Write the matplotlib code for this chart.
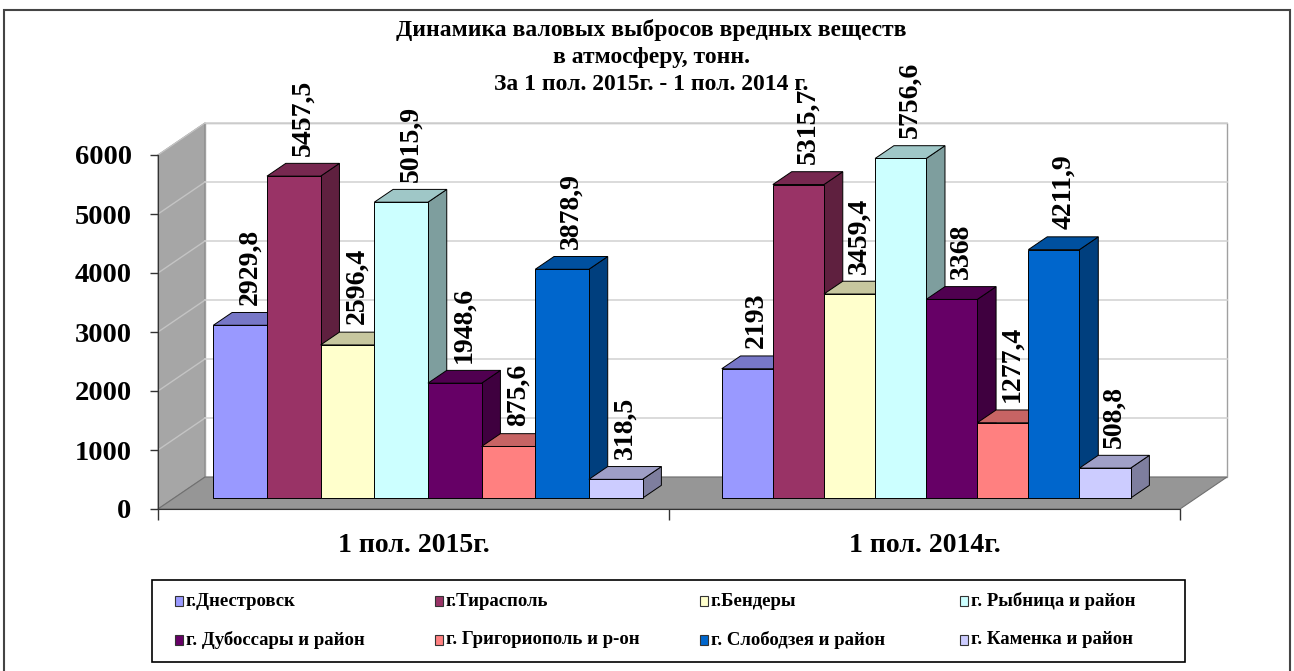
import matplotlib
matplotlib.use("Agg")
import matplotlib.pyplot as plt
from matplotlib.patches import Polygon, Rectangle
from matplotlib.colors import to_rgb

plt.rcParams['font.family'] = ['Liberation Serif', 'DejaVu Serif']
plt.rcParams['font.weight'] = 'bold'

# data
periods = ['1 пол. 2015г.', '1 пол. 2014г.']
towns = ['г.Днестровск', 'г.Тирасполь', 'г.Бендеры', 'г. Рыбница и район',
         'г. Дубоссары и район', 'г. Григориополь и р-он', 'г. Слободзея и район',
         'г. Каменка и район']
vals_2015 = [2929.8, 5457.5, 2596.4, 5015.9, 1948.6, 875.6, 3878.9, 318.5]
vals_2014 = [2193, 5315.7, 3459.4, 5756.6, 3368, 1277.4, 4211.9, 508.8]
colors = ['#9999FF', '#993366', '#FFFFCC', '#CCFFFF',
          '#660066', '#FF8080', '#0066CC', '#CCCCFF']
title_lines = ['Динамика валовых выбросов вредных веществ',
               'в атмосферу, тонн.',
               'За 1 пол. 2015г. - 1 пол. 2014 г.']

W, H = 1294, 671
fig = plt.figure(figsize=(W / 100, H / 100), dpi=100)
ax = fig.add_axes([158 / W, (H - 509) / H, (1180 - 158) / W, (509 - 155) / H])
ax.set_xlim(0, 2)
ax.set_ylim(0, 6000)

# 3d depth offset (category units, value units)
DX, DY = 0.092, 542
f0, d = 0.34, 0.40          # bar front position in depth, bar depth
group_c = [0.497, 1.472]    # group centres (slight perspective)
group_w = [0.84, 0.80]


def shade(c, k):
    r, g, b = to_rgb(c)
    return (r * k, g * k, b * k)


# walls and floor
ax.add_patch(Polygon([(0, 0), (0, 6000), (DX, 6000 + DY), (DX, DY)],
                     closed=True, fc='#a6a6a6', ec='#808080', lw=0.8,
                     clip_on=False, zorder=0))
ax.add_patch(Rectangle((DX, DY), 2, 6000, fc='white', ec='#a0a0a0', lw=1,
                       clip_on=False, zorder=0))
ax.add_patch(Polygon([(0, 0), (2, 0), (2 + DX, DY), (DX, DY)],
                     closed=True, fc='#969696', ec='#707070', lw=0.8,
                     clip_on=False, zorder=0.5))
for v in range(1000, 7000, 1000):
    ax.plot([DX, 2 + DX], [v + DY, v + DY], color='#d4d4d4', lw=1.2,
            clip_on=False, zorder=0.2)
    ax.plot([0, DX], [v, v + DY], color='#c4c4c4', lw=1.0,
            clip_on=False, zorder=0.2)

# bars
z = 3
for gi, vals in enumerate([vals_2015, vals_2014]):
    w = group_w[gi] / len(vals)
    start = group_c[gi] - group_w[gi] / 2
    for j, v in enumerate(vals):
        x0 = start + j * w + f0 * DX
        y0 = f0 * DY
        c = colors[j]
        ax.add_patch(Polygon([(x0 + w, y0), (x0 + w + d * DX, y0 + d * DY),
                              (x0 + w + d * DX, y0 + v + d * DY), (x0 + w, y0 + v)],
                             closed=True, fc=shade(c, 0.62), ec='black', lw=0.7,
                             clip_on=False, zorder=z))
        ax.add_patch(Polygon([(x0, y0 + v), (x0 + w, y0 + v),
                              (x0 + w + d * DX, y0 + v + d * DY),
                              (x0 + d * DX, y0 + v + d * DY)],
                             closed=True, fc=shade(c, 0.78), ec='black', lw=0.7,
                             clip_on=False, zorder=z))
        ax.bar(x0, v, width=w, bottom=y0, align='edge', color=c,
               edgecolor='black', linewidth=0.7, zorder=z + 0.1, clip_on=False)
        z += 1
        lab = f'{v:g}'.replace('.', ',')
        ax.text(x0 + w / 2 + d * DX / 2, y0 + v + d * DY + 130, lab, rotation=90,
                ha='center', va='bottom', fontsize=20, fontweight='bold',
                clip_on=False, zorder=50)

# axes
for s in ['top', 'right']:
    ax.spines[s].set_visible(False)
ax.spines['left'].set_color('#333333')
ax.spines['bottom'].set_color('#333333')
ax.spines['left'].set_zorder(40)
ax.spines['bottom'].set_zorder(40)
ax.set_yticks(range(0, 7000, 1000))
ax.set_yticklabels([str(t) for t in range(0, 7000, 1000)], fontsize=20.5,
                   fontweight='bold')
ax.tick_params(axis='y', length=6, width=1, pad=13, color='#333333')
ax.set_xticks([0, 1, 2], minor=True)
ax.set_xticks([0.5, 1.5])
ax.set_xticklabels(periods, fontsize=20, fontweight='bold')
ax.tick_params(axis='x', which='major', length=0, pad=17)
ax.tick_params(axis='x', which='minor', length=8, width=1, color='#333333')
ax.patch.set_visible(False)

# title, one text per line
for k, line in enumerate(title_lines):
    fig.text(651 / W, 1 - (30 + 27.5 * k) / H, line, ha='center', va='center',
             fontsize=17, fontweight='bold')

# legend box drawn by hand, row-wise like the original
fig.add_artist(Rectangle((152 / W, (H - 662) / H), (1185 - 152) / W, 82 / H,
                         transform=fig.transFigure, fc='white', ec='black',
                         lw=1.2))
col_x = [175, 435, 700, 960]
row_y = [601, 640]
for i, (name, c) in enumerate(zip(towns, colors)):
    px, py = col_x[i % 4], row_y[i // 4]
    fig.add_artist(Rectangle((px / W, (H - py - 5) / H), 8 / W, 10 / H,
                             transform=fig.transFigure, fc=c, ec='#333333',
                             lw=0.8))
    fig.text((px + 11) / W, (H - py) / H, name, ha='left', va='center',
             fontsize=13.5, fontweight='bold')

# outer chart frame
fig.add_artist(Rectangle((4 / W, -0.01), 1286 / W, (H - 10) / H + 0.01,
                         transform=fig.transFigure, fill=False,
                         ec='#444444', lw=1.5))

fig.savefig('out.png', dpi=100)
